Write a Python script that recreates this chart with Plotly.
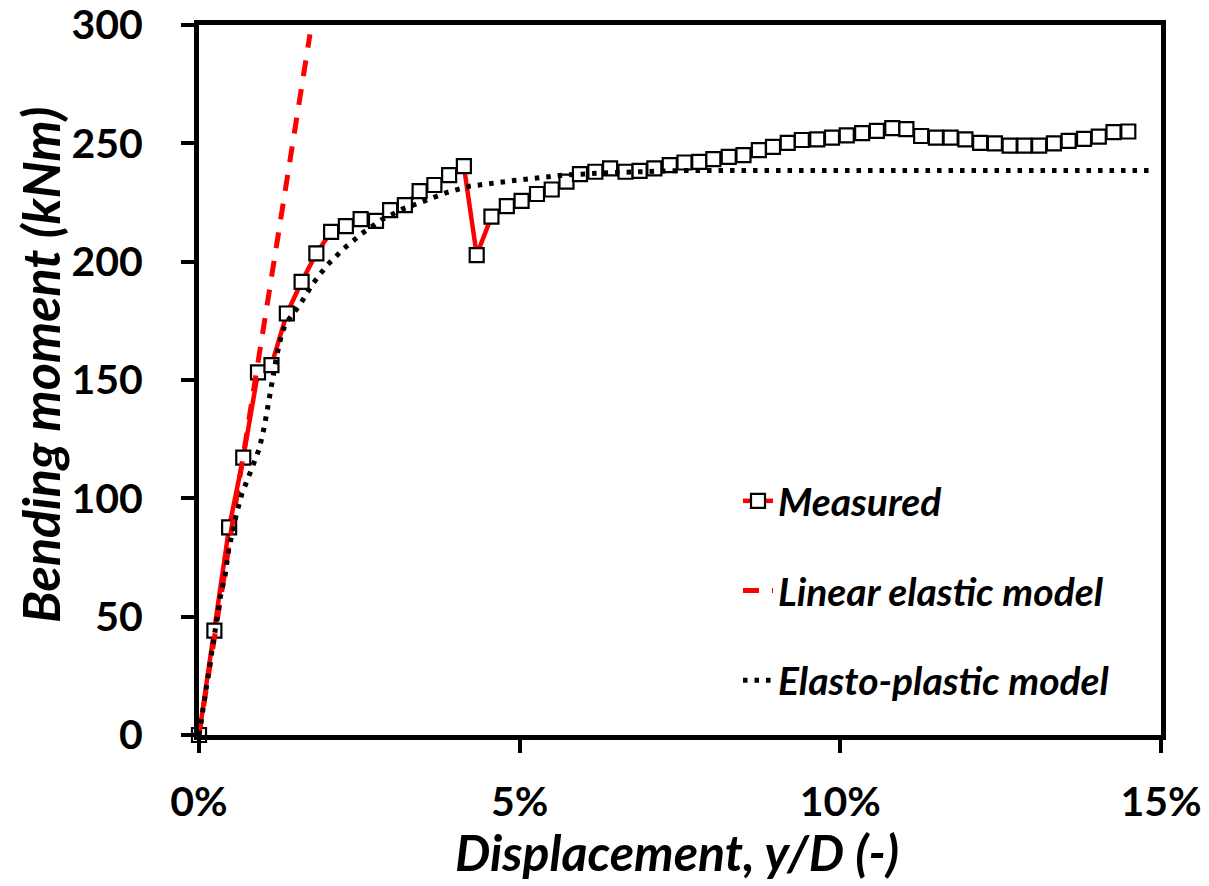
import plotly.graph_objects as go

# Measured data (displacement y/D in %, bending moment in kNm)
meas_x = [0, 0.24, 0.47, 0.69, 0.92, 1.13, 1.37, 1.60, 1.83, 2.06, 2.29, 2.52, 2.76, 2.98,
          3.21, 3.44, 3.67, 3.90, 4.13, 4.33, 4.56, 4.80, 5.03, 5.27, 5.50, 5.73, 5.94, 6.18,
          6.41, 6.65, 6.87, 7.10, 7.34, 7.57, 7.80, 8.02, 8.26, 8.49, 8.73, 8.95, 9.18, 9.40,
          9.64, 9.87, 10.10, 10.34, 10.57, 10.81, 11.03, 11.26, 11.49, 11.72, 11.95, 12.18,
          12.41, 12.64, 12.87, 13.10, 13.33, 13.56, 13.80, 14.03, 14.26, 14.49]
meas_y = [0, 44.1, 87.7, 117.2, 153.2, 156.3, 178.1, 191.5, 203.5, 212.6, 215.0, 218.0, 217.2,
          221.8, 223.9, 229.8, 232.4, 236.6, 240.4, 202.8, 219.0, 223.5, 225.7, 228.6, 230.5,
          233.8, 237.0, 238.0, 239.4, 238.0, 238.4, 239.4, 240.8, 241.9, 242.2, 243.3, 244.3,
          245.0, 247.1, 248.5, 250.2, 251.4, 251.7, 252.4, 253.4, 254.3, 255.3, 256.4, 256.0,
          253.1, 252.4, 252.4, 251.7, 250.2, 250.0, 249.0, 249.0, 249.0, 250.0, 251.0, 251.9,
          252.8, 254.7, 255.0]
assert len(meas_x) == len(meas_y)

# Linear elastic model
lin_x = [0, 1.73]
lin_y = [0, 296]

# Elasto-plastic model
ep_x = [0, 0.25, 0.33, 0.41, 0.46, 0.58, 0.67, 0.81, 0.94, 1.02, 1.08, 1.13, 1.21, 1.29,
        1.36, 1.47, 1.58, 1.77, 1.99, 2.26, 2.54, 2.84, 3.17, 3.52, 3.86, 4.22, 4.58, 4.95,
        5.68, 6.41, 7.5, 14.9]
ep_y = [0, 44, 58, 68, 78, 93, 102, 111.7, 121, 130.5, 140.4, 150, 160, 169.6, 174.2, 178.1,
        182.1, 190.5, 198.3, 205.6, 211.9, 217.6, 222.2, 225.7, 229.2, 231.9, 233.2, 234.4,
        236.6, 237.6, 238.5, 238.5]
assert len(ep_x) == len(ep_y)

x_ticks = [0, 5, 10, 15]
x_tick_labels = ["0%", "5%", "10%", "15%"]
y_ticks = [0, 50, 100, 150, 200, 250, 300]

FONT = "Lato, 'Open Sans', sans-serif"

fig = go.Figure()
fig.add_trace(go.Scatter(
    x=meas_x, y=meas_y, mode="lines+markers", name="Measured",
    line=dict(color="#ff0000", width=4.5),
    marker=dict(symbol="square", size=14, color="white", line=dict(color="black", width=2.2)),
    cliponaxis=False, legendgroup="a"))
fig.add_trace(go.Scatter(
    x=lin_x, y=lin_y, mode="lines", name="Linear elastic model",
    line=dict(color="#ff0000", width=5, dash="16px,13px"), legendgroup="b"))
fig.add_trace(go.Scatter(
    x=ep_x, y=ep_y, mode="lines", name="Elasto-plastic model",
    line=dict(color="black", width=5, dash="4.5px,7px"), legendgroup="c"))

axis_common = dict(
    showgrid=False, zeroline=False, showline=True, linecolor="black", linewidth=5,
    mirror=True, ticks="outside", ticklen=13, tickwidth=3.5, tickcolor="black",
    tickfont=dict(family=FONT, size=41, color="black", weight="bold"),
    automargin=False, ticklabeloverflow="allow",
)
fig.update_xaxes(range=[0, 15], tickvals=x_ticks, ticktext=x_tick_labels,
                 ticklabelstandoff=14, **axis_common)
fig.update_yaxes(range=[0, 300], tickvals=y_ticks, ticklabelstandoff=30, **axis_common)

fig.add_annotation(text="<b><i>Displacement, y/D (-)</i></b>", xref="paper", yref="paper",
                   x=(677 - 199) / 962, y=(735 - 852) / 710, yanchor="middle", showarrow=False,
                   font=dict(family=FONT, size=50, color="black"))
fig.add_annotation(text="<b><i>Bending moment (kNm)</i></b>", xref="paper", yref="paper",
                   x=(40 - 199) / 962, y=(735 - 365) / 710, xanchor="center", yanchor="middle",
                   textangle=-90, showarrow=False,
                   font=dict(family=FONT, size=52, color="black"))

fig.update_layout(
    width=1209, height=886,
    margin=dict(l=199, r=48, t=25, b=151, autoexpand=False),
    plot_bgcolor="white", paper_bgcolor="white",
    showlegend=True,
    legend=dict(xref="paper", yref="paper", x=(738 - 199) / 962, y=(735 - 469) / 710,
                xanchor="left", yanchor="top", bgcolor="rgba(0,0,0,0)",
                font=dict(family=FONT, size=39, color="black", weight="bold", style="italic"),
                tracegroupgap=36, itemwidth=30),
)

fig.write_html("out.html", config={"displayModeBar": False},
               post_script="document.body.style.margin='0';")
